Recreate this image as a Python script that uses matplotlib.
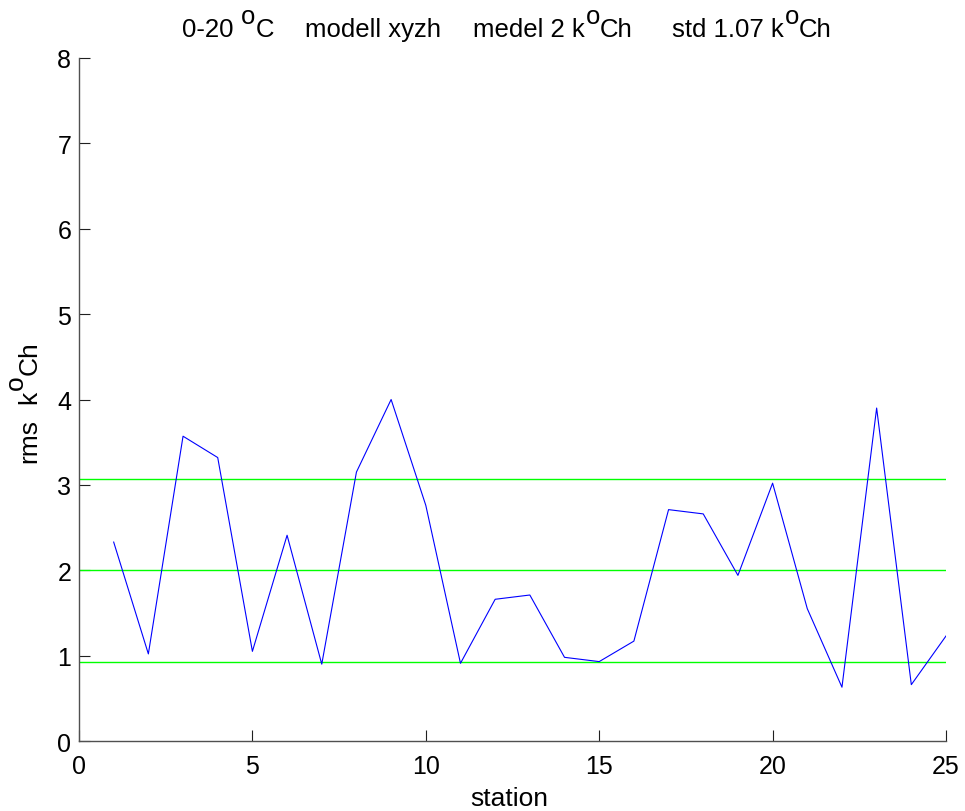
import matplotlib
matplotlib.use("Agg")
import matplotlib.pyplot as plt
from matplotlib.transforms import IdentityTransform

plt.rcParams['font.family'] = ['Liberation Sans', 'DejaVu Sans']

stations = list(range(1, 26))
rms = [2.33, 1.02, 3.57, 3.32, 1.05, 2.41, 0.90, 3.15, 4.00, 2.76,
       0.91, 1.66, 1.71, 0.98, 0.93, 1.17, 2.71, 2.66, 1.94, 3.02,
       1.55, 0.63, 3.90, 0.66, 1.23]
mean_val = 2.0
std_val = 1.07
ref_levels = [mean_val + std_val, mean_val, mean_val - std_val]

xticks = [0, 5, 10, 15, 20, 25]
yticks = [0, 1, 2, 3, 4, 5, 6, 7, 8]

# title / label pieces: (text, superscript?, gap in px before the piece)
title_parts = [("0-20", False, 0), ("o", True, 8), ("C", False, 0),
               ("modell xyzh", False, 31), ("medel 2 k", False, 32),
               ("o", True, 1), ("Ch", False, 0),
               ("std 1.07 k", False, 39), ("o", True, 1), ("Ch", False, 0)]
ylabel_parts = [("rms", False, 0), ("k", False, 15), ("o", True, 1),
                ("Ch", False, 0)]
xlabel_text = "station"

W, H = 965, 812
fig = plt.figure(figsize=(W / 100, H / 100), dpi=100)
ax = fig.add_axes([79 / W, 1 - 742 / H, (946 - 79) / W, (742 - 59) / H])

for lv in ref_levels:
    ax.axhline(lv, color=(0, 1, 0), linewidth=1.0, snap=True)
ax.plot(stations, rms, color=(0, 0, 1), linewidth=0.8)

ax.set_xlim(0, 25)
ax.set_ylim(0, 8)
ax.set_xticks(xticks)
ax.set_yticks(yticks)
ax.spines['top'].set_visible(False)
ax.spines['right'].set_visible(False)
for s in ['left', 'bottom']:
    ax.spines[s].set_color('#505050')
    ax.spines[s].set_linewidth(1.0)
ax.tick_params(direction='in', length=8, width=0.8, color='#202020',
               labelsize=18)
ax.tick_params(axis='x', pad=9.5)
ax.tick_params(axis='y', pad=5.5)

renderer = fig.canvas.get_renderer()
pix = IdentityTransform()


def rich_text(parts, x0, y0, fontsize, raise_px, vertical=False):
    """Lay out pieces in pixel coordinates (origin bottom-left)."""
    pos = x0 if not vertical else y0
    for txt, sup, gap in parts:
        pos += gap
        if not vertical:
            y = y0 + (raise_px if sup else 0)
            t = fig.text(pos, y, txt, transform=pix, fontsize=fontsize,
                         ha='left', va='baseline')
            ext = t.get_window_extent(renderer)
            pos += ext.width
        else:
            x = x0 - (raise_px if sup else 0)
            t = fig.text(x, pos, txt, transform=pix, fontsize=fontsize,
                         ha='left', va='baseline', rotation=90,
                         rotation_mode='anchor')
            ext = t.get_window_extent(renderer)
            pos += ext.height


rich_text(title_parts, 181.7, H - 37, 18.5, 12.5)
rich_text(ylabel_parts, 36.5, H - 463, 19, 13.5, vertical=True)
fig.text(509.7, H - 806, xlabel_text, transform=pix, fontsize=19,
         ha='center', va='baseline')

fig.savefig('out.png', dpi=100)
